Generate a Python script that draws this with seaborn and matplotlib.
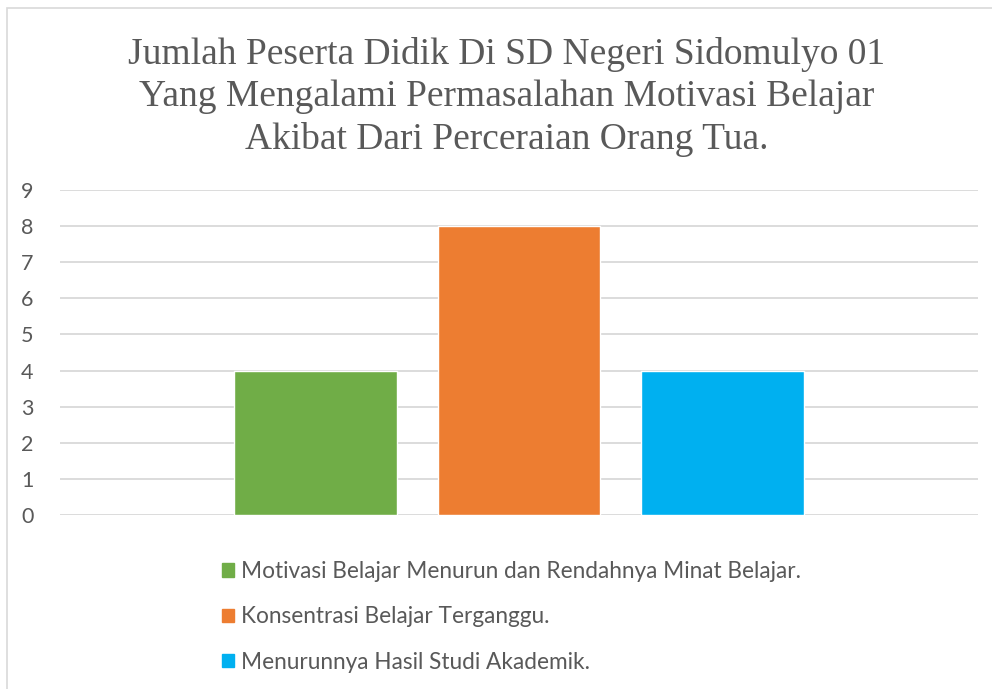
import pandas as pd
import matplotlib.pyplot as plt
import seaborn as sns
from matplotlib.patches import Rectangle

# ===== DATA =====
kategori = ["Motivasi Belajar Menurun dan Rendahnya Minat Belajar.",
            "Konsentrasi Belajar Terganggu.",
            "Menurunnya Hasil Studi Akademik."]
jumlah = [4, 8, 4]
warna = ["#70AD47", "#ED7D31", "#00B0F0"]
yticks = list(range(0, 10))

judul = ("Jumlah Peserta Didik Di SD Negeri Sidomulyo 01\n"
         "Yang Mengalami Permasalahan Motivasi Belajar\n"
         "Akibat Dari Perceraian Orang Tua.")

df = pd.DataFrame({"grup": [""] * len(kategori), "kategori": kategori, "jumlah": jumlah})

sns.set_theme(style="white")
plt.rcParams["font.family"] = ["Lato", "DejaVu Sans"]

fig = plt.figure(figsize=(9.92, 6.89), dpi=100)
ax = fig.add_axes([60 / 992, 1 - 515 / 689, 918 / 992, 325 / 689])

sns.barplot(data=df, x="grup", y="jumlah", hue="kategori", hue_order=kategori,
            palette=warna, width=0.665, gap=0.2, saturation=1, ax=ax,
            legend=False, zorder=3)

ax.set_xlim(-0.5, 0.5)
ax.set_ylim(0, 9)
ax.set_yticks(yticks)
ax.set_yticklabels([str(t) for t in yticks], color="#595959", fontsize=15.5)
ax.tick_params(axis="y", length=0, pad=19)
ax.set_xticks([])
ax.set_xlabel("")
ax.set_ylabel("")
ax.yaxis.grid(True, color="#d9d9d9", linewidth=1.3, zorder=0)
ax.set_axisbelow(True)
for s in ax.spines.values():
    s.set_visible(False)

# ===== TITRE =====
fig.text(507 / 992, 1 - 97 / 689, judul, ha="center", va="center", fontsize=27,
         family="Liberation Serif", color="#595959", linespacing=1.3)

# ===== LEGENDE =====
handles = [Rectangle((0, 0), 1, 1, color=c) for c in warna]
leg = fig.legend(handles, kategori, loc="upper left",
                 bbox_to_anchor=(222 / 992, 1 - 561 / 689), frameon=False,
                 fontsize=16.3, labelspacing=1.08, handlelength=0.52,
                 handleheight=0.52, handletextpad=0.3, borderaxespad=0,
                 borderpad=0)
for t in leg.get_texts():
    t.set_color("#595959")

# ===== BORDURE =====
fig.patches.append(Rectangle((7 / 992, -0.05), 1.1, 1 - 8 / 689 + 0.05,
                             transform=fig.transFigure, fill=False,
                             edgecolor="#d9d9d9", linewidth=1.2))

fig.savefig("out.png", dpi=100)
